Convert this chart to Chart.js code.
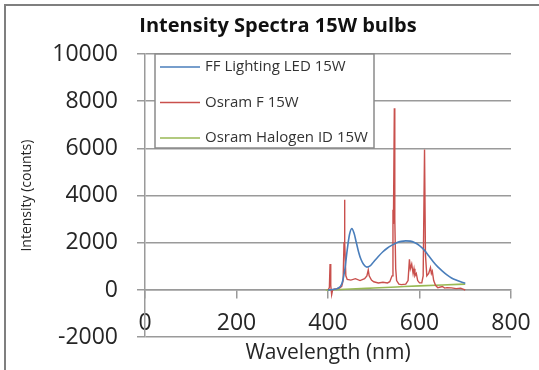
<!DOCTYPE html>
<html>
<head>
<meta charset="utf-8">
<title>Intensity Spectra 15W bulbs</title>
<script src="https://cdn.jsdelivr.net/npm/chart.js@4/dist/chart.umd.min.js"></script>
<style>
  html, body { margin: 0; padding: 0; background: #fff; }
  canvas { display: block; }
</style>
</head>
<body>
<canvas id="chart" width="539" height="370"></canvas>
<script>
// wavelengths (nm) and intensities (counts)
const ledWave = [400, 410, 420, 430, 437, 442, 447, 452, 457, 462, 467, 472, 478, 485, 492, 500, 510, 520, 530, 540, 550, 560, 570, 580, 590, 600, 610, 620, 630, 640, 650, 660, 670, 680, 690, 700];
const ledVals = [0, 20, 60, 250, 900, 1700, 2350, 2600, 2400, 2000, 1600, 1300, 1080, 970, 1020, 1200, 1420, 1620, 1780, 1900, 2000, 2060, 2080, 2070, 2000, 1880, 1700, 1450, 1200, 980, 800, 640, 510, 420, 350, 290];

const fluoWave = [400, 403, 404.5, 406, 408, 410, 415, 420, 425, 430, 433, 435, 436, 437, 439, 442, 450, 460, 470, 480, 485, 488, 490, 495, 500, 510, 520, 530, 535, 540, 542, 543, 545, 546, 548, 550, 555, 560, 570, 575, 578, 580, 583, 586, 588, 590, 593, 596, 600, 605, 608, 611, 613, 616, 620, 624, 626, 628, 631, 635, 640, 650, 655, 660, 670, 680, 690, 695, 700];
const fluoVals = [0, 100, 1100, 200, -200, 0, 50, 60, 80, 150, 400, 2000, 3820, 2000, 600, 450, 420, 480, 400, 480, 600, 850, 600, 420, 350, 300, 330, 300, 350, 600, 3400, 2800, 7700, 3000, 900, 400, 250, 230, 250, 400, 1300, 900, 1100, 700, 900, 600, 700, 400, 300, 300, 600, 5950, 1500, 600, 700, 950, 700, 800, 400, 200, 100, 150, 80, 100, 90, 60, 80, 40, 0];

const haloWave = [395, 450, 500, 550, 600, 650, 700];
const haloVals = [0, 40, 85, 130, 175, 215, 250];

const seriesNames = ['FF Lighting LED 15W', 'Osram F 15W', 'Osram Halogen ID 15W'];
const seriesColors = ['#4a7ebb', '#c9504d', '#98b954'];

const xTicks = [0, 200, 400, 600, 800];
const yTicks = [-2000, 0, 2000, 4000, 6000, 8000, 10000];

const toPoints = (xs, ys) => xs.map((x, i) => ({ x, y: ys[i] }));

const gridColor = '#9a9a9a';
const textColor = '#262626';
const font = 'Open Sans';

// white legend box inside the plot, like the spreadsheet chart
const boxLegend = {
  id: 'boxLegend',
  afterDraw(chart) {
    const ctx = chart.ctx, a = chart.chartArea;
    const x0 = a.left + 10, y0 = a.top, w = 219, h = 94;
    ctx.save();
    ctx.fillStyle = '#fff';
    ctx.fillRect(x0, y0, w, h);
    ctx.strokeStyle = '#8a8a8a';
    ctx.lineWidth = 1.5;
    ctx.strokeRect(x0, y0, w, h);
    ctx.font = '15px "' + font + '"';
    ctx.textBaseline = 'middle';
    chart.data.datasets.forEach((ds, i) => {
      const y = y0 + 13 + i * 35.5;
      ctx.strokeStyle = ds.borderColor;
      ctx.lineWidth = 1.5;
      ctx.beginPath();
      ctx.moveTo(x0 + 5, y);
      ctx.lineTo(x0 + 45, y);
      ctx.stroke();
      ctx.fillStyle = '#333';
      ctx.fillText(ds.label, x0 + 50, y);
    });
    ctx.restore();
  }
};

// outer frame of the chart (left and top edges visible in the picture)
const frame = {
  id: 'frame',
  beforeDraw(chart) {
    const ctx = chart.ctx;
    ctx.save();
    ctx.fillStyle = '#fff';
    ctx.fillRect(0, 0, chart.width, chart.height);
    ctx.strokeStyle = '#7f7f7f';
    ctx.lineWidth = 2;
    ctx.beginPath();
    ctx.moveTo(5, chart.height);
    ctx.lineTo(5, 5);
    ctx.lineTo(chart.width, 5);
    ctx.stroke();
    ctx.restore();
  }
};

new Chart(document.getElementById('chart'), {
  type: 'line',
  data: {
    datasets: [
      { label: seriesNames[0], data: toPoints(ledWave, ledVals), borderColor: seriesColors[0], borderWidth: 1.6, cubicInterpolationMode: 'monotone' },
      { label: seriesNames[1], data: toPoints(fluoWave, fluoVals), borderColor: seriesColors[1], borderWidth: 1.4, tension: 0 },
      { label: seriesNames[2], data: toPoints(haloWave, haloVals), borderColor: seriesColors[2], borderWidth: 1.6, cubicInterpolationMode: 'monotone' }
    ]
  },
  options: {
    responsive: false,
    animation: false,
    elements: { point: { radius: 0 } },
    layout: { padding: { left: 45, right: 28, top: 4, bottom: 28 } },
    plugins: {
      legend: { display: false },
      tooltip: { enabled: false },
      title: {
        display: true,
        text: 'Intensity Spectra 15W bulbs',
        color: '#111',
        font: { family: font, size: 20, weight: 'bold' },
        padding: { top: 10, bottom: 16 }
      }
    },
    scales: {
      x: {
        type: 'linear',
        position: { y: 0 },
        min: xTicks[0],
        max: xTicks[xTicks.length - 1],
        afterBuildTicks: s => { s.ticks = xTicks.map(v => ({ value: v })); },
        afterFit: s => { s.paddingLeft = 0; s.paddingRight = 20; },
        ticks: { color: textColor, font: { family: font, size: 23 }, padding: 12, maxRotation: 0, callback: v => String(v) },
        grid: { drawOnChartArea: false, drawTicks: true, tickLength: 8, color: gridColor, lineWidth: 1.5 },
        border: { color: gridColor, width: 1.5 },
        title: { display: true, text: 'Wavelength (nm)', color: textColor, font: { family: font, size: 21 }, padding: { top: -9, bottom: 0 } }
      },
      y: {
        type: 'linear',
        position: 'left',
        min: yTicks[0],
        max: yTicks[yTicks.length - 1],
        afterBuildTicks: s => { s.ticks = yTicks.map(v => ({ value: v })); },
        afterFit: s => { s.width = 100; },
        ticks: { color: textColor, font: { family: font, size: 23 }, padding: 19, callback: v => String(v) },
        grid: { color: gridColor, lineWidth: 1.5, tickLength: 8 },
        border: { color: gridColor, width: 1.5 },
        title: { display: true, text: 'Intensity (counts)', color: textColor, font: { family: font, size: 14 }, padding: { top: -26.4, bottom: 0 } }
      }
    }
  },
  plugins: [frame, boxLegend]
});
</script>
</body>
</html>
